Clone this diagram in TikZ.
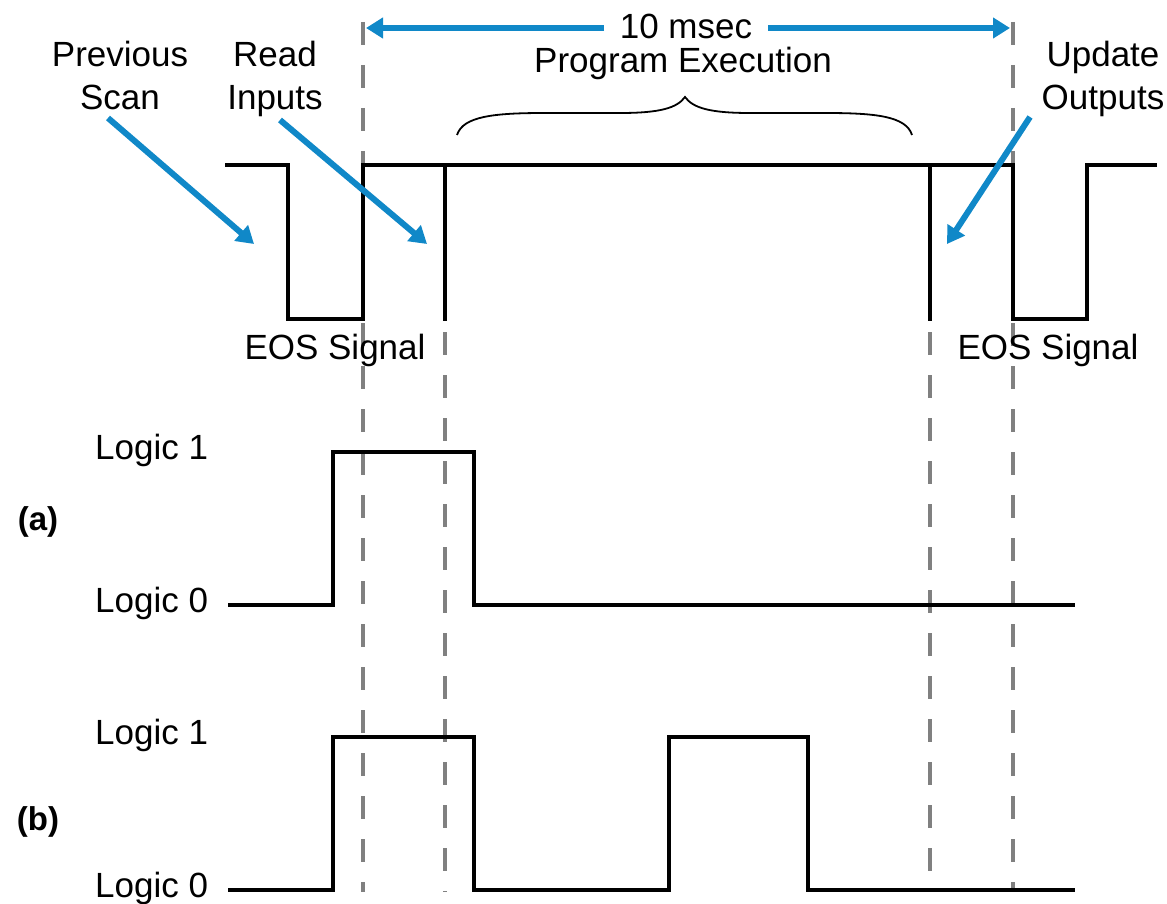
\documentclass[tikz,border=0pt]{standalone}
\usepackage{fontspec}
\setmainfont{Liberation Sans}
\usetikzlibrary{arrows.meta}
\definecolor{arrowblue}{RGB}{16,136,200}
\definecolor{dashgray}{RGB}{128,128,128}
\begin{document}
\begin{tikzpicture}[x=1pt,y=-1pt,
  wave/.style={line width=4pt,black,line join=miter},
  guide/.style={line width=4pt,dashgray,dash pattern=on 23pt off 20pt},
  bluearr/.style={line width=6pt,arrowblue,-{Triangle[length=17pt,width=20pt]}},
  lbl/.style={font=\fontsize{35}{43}\selectfont,inner sep=0pt,align=center},
  lab/.style={font=\bfseries\fontsize{33}{38}\selectfont,inner sep=0pt}]
\useasboundingbox (0,0) rectangle (1167,904);
\fill[white] (0,0) rectangle (1167,904);
% dashed guides
\draw[guide] (363,22) -- (363,892);
\draw[guide] (1013,22) -- (1013,892);
\draw[guide] (445,332) -- (445,892);
\draw[guide] (930,332) -- (930,892);
% top waveform
\draw[wave] (225,165) -- (288,165) -- (288,319) -- (363,319) -- (363,165) -- (1013,165) -- (1013,319) -- (1087,319) -- (1087,165) -- (1157,165);
\draw[wave] (445,165) -- (445,321);
\draw[wave] (930,165) -- (930,321);
% (a) waveform
\draw[wave] (228,605) -- (333,605) -- (333,452) -- (474,452) -- (474,605) -- (1075,605);
% (b) waveform
\draw[wave] (228,890) -- (333,890) -- (333,737) -- (474,737) -- (474,890) -- (669,890) -- (669,737) -- (808,737) -- (808,890) -- (1075,890);
% brace
\draw[line width=1.8pt] (457,135) .. controls (463,116) and (495,113) .. (545,113) -- (620,113) .. controls (660,113) and (677,108) .. (685,97) .. controls (693,108) and (710,113) .. (750,113) -- (825,113) .. controls (875,113) and (906,116) .. (912,135);
% labels
\node[lbl] (prev) at (120,75) {Previous\\Scan};
\node[lbl] (read) at (275,79) {Read\\Inputs};
\node[lbl] (upd) at (1103,79) {Update\\Outputs};
\node[lbl,inner xsep=12pt] (msec) at (686,26) {10 msec};
\node[lbl] (prog) at (683,63) {Program Execution};
\node[lbl] (eos1) at (335,350) {EOS Signal};
\node[lbl] (eos2) at (1048,350) {EOS Signal};
\node[lbl,anchor=west] (a1) at (95,450) {Logic 1};
\node[lbl,anchor=west] (a0) at (95,603) {Logic 0};
\node[lbl,anchor=west] (b1) at (95,735) {Logic 1};
\node[lbl,anchor=west] (b0) at (95,888) {Logic 0};
\node[lab] (la) at (38,522) {(a)};
\node[lab] (lb) at (38,822) {(b)};
% arrow coordinates
\coordinate (tl) at (366,28);
\coordinate (tr) at (1010,28);
\coordinate (ml) at (604,28);
\coordinate (mr) at (768,28);
\coordinate (pa) at (108,118);
\coordinate (pb) at (254,244);
\coordinate (ra) at (280,120);
\coordinate (rb) at (427,244);
\coordinate (ua) at (1030,117);
\coordinate (ub) at (947,244);
\draw[bluearr] (ml) -- (tl);
\draw[bluearr] (mr) -- (tr);
\draw[bluearr] (pa) -- (pb);
\draw[bluearr] (ra) -- (rb);
\draw[bluearr] (ua) -- (ub);
\end{tikzpicture}
\end{document}
